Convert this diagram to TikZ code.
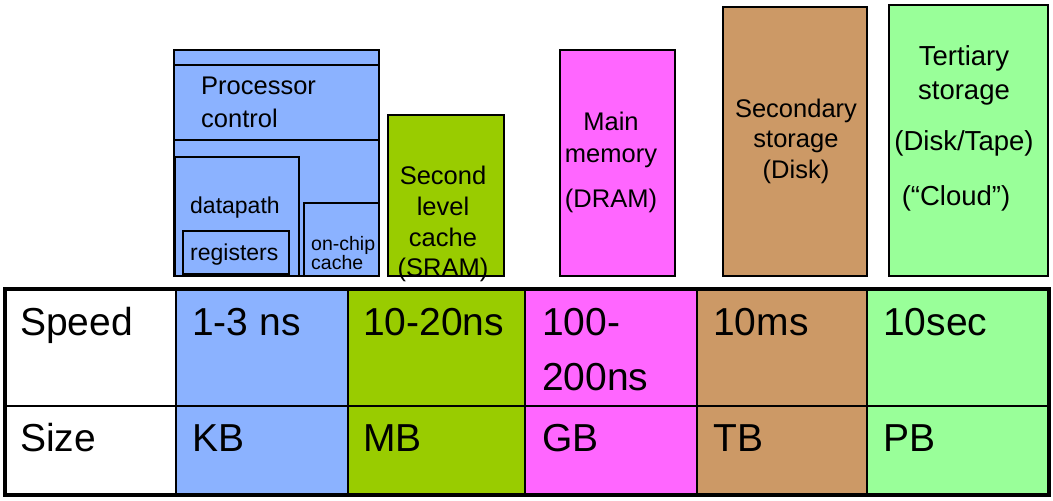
\documentclass[tikz,border=0pt]{standalone}
\usepackage{fontspec}
\setmainfont{Liberation Sans}
\usepackage{tikz}

\definecolor{cpublue}{RGB}{139,178,255}
\definecolor{sramgreen}{RGB}{153,204,0}
\definecolor{drampink}{RGB}{255,102,255}
\definecolor{diskbrown}{RGB}{204,153,102}
\definecolor{tapegreen}{RGB}{153,255,153}

\tikzset{
	box/.style={draw=black,line width=1.5pt},
	cell/.style={anchor=base west,inner sep=0pt,font=\fontsize{39}{46}\selectfont},
	lbl/.style={anchor=base,inner sep=0pt,font=\fontsize{25.5}{30}\selectfont},
	big/.style={anchor=base,inner sep=0pt,font=\fontsize{27.5}{32}\selectfont},
	lblw/.style={anchor=base west,inner sep=0pt,font=\fontsize{25.5}{30}\selectfont},
	small/.style={anchor=base west,inner sep=0pt,font=\fontsize{23}{28}\selectfont},
	tiny/.style={anchor=base west,inner sep=0pt,font=\fontsize{19.5}{24}\selectfont},
}

\begin{document}
\begin{tikzpicture}[x=1pt,y=-1pt]
	\useasboundingbox (0,0) rectangle (1053,501);
	
	% Draw the processor
	\draw[box,fill=cpublue] (174,50) rectangle (379,276);
	\draw[box] (174,65) rectangle (379,140);
	\draw[box] (175,157) rectangle (299,276);
	\draw[box] (183,231) rectangle (289,274);
	\draw[box] (304,203) rectangle (379,276);
	\node[lblw] (proc) at (201,94) {Processor};
	\node[lblw] (ctrl) at (201,127) {control};
	\node[small] (dpath) at (190,213) {datapath};
	\node[small] (regs) at (190,260) {registers};
	\node[tiny] (onchip) at (311,250) {on-chip};
	\node[tiny] (l1) at (311,269) {cache};
	
	% Draw the other levels
	\draw[box,fill=sramgreen] (388,115) rectangle (504,276);
	\draw[box,fill=drampink] (560,50) rectangle (675,276);
	\draw[box,fill=diskbrown] (723,7) rectangle (867,276);
	\draw[box,fill=tapegreen] (889,5) rectangle (1048,276);
	
	\node[lbl] (sec) at (443,184) {Second};
	\node[lbl] (lvl) at (443,215) {level};
	\node[lbl] (l2) at (443,246) {cache};
	\node[lbl] (sram) at (443,276) {(SRAM)};
	
	\node[lbl] (main) at (611,130) {Main};
	\node[lbl] (mem) at (611,162) {memory};
	\node[lbl] (dram) at (611,207) {(DRAM)};
	
	\node[lbl] (secnd) at (796,117) {Secondary};
	\node[lbl] (stor) at (796,147) {storage};
	\node[lbl] (disk) at (796,178) {(Disk)};
	
	\node[big] (tert) at (964,65) {Tertiary};
	\node[big] (stor2) at (964,99) {storage};
	\node[big] (tape) at (964,150) {(Disk/Tape)};
	\node[big] (cloud) at (956,205) {(“Cloud”)};
	
	% Draw the table
	\fill[cpublue] (176,289) rectangle (348,495);
	\fill[sramgreen] (348,289) rectangle (525,495);
	\fill[drampink] (525,289) rectangle (697,495);
	\fill[diskbrown] (697,289) rectangle (867,495);
	\fill[tapegreen] (867,289) rectangle (1049,495);
	\foreach \x in {176,348,525,697,867}
		\draw[line width=1.5pt] (\x,289) -- (\x,495);
	\draw[line width=2pt] (5,406) -- (1049,406);
	\draw[line width=4pt] (5,289) rectangle (1049,495);
	
	\node[cell] (speed) at (20,335) {Speed};
	\node[cell] (size) at (20,451) {Size};
	\node[cell] (t1) at (192,335) {1-3 ns};
	\node[cell] (t2) at (363,335) {10-20ns};
	\node[cell] (t3) at (542,335) {100-};
	\node[cell] (t3b) at (542,390) {200ns};
	\node[cell] (t4) at (713,335) {10ms};
	\node[cell] (t5) at (883,335) {10sec};
	\node[cell] (s1) at (192,451) {KB};
	\node[cell] (s2) at (363,451) {MB};
	\node[cell] (s3) at (542,451) {GB};
	\node[cell] (s4) at (713,451) {TB};
	\node[cell] (s5) at (883,451) {PB};
	
\end{tikzpicture}
\end{document}
